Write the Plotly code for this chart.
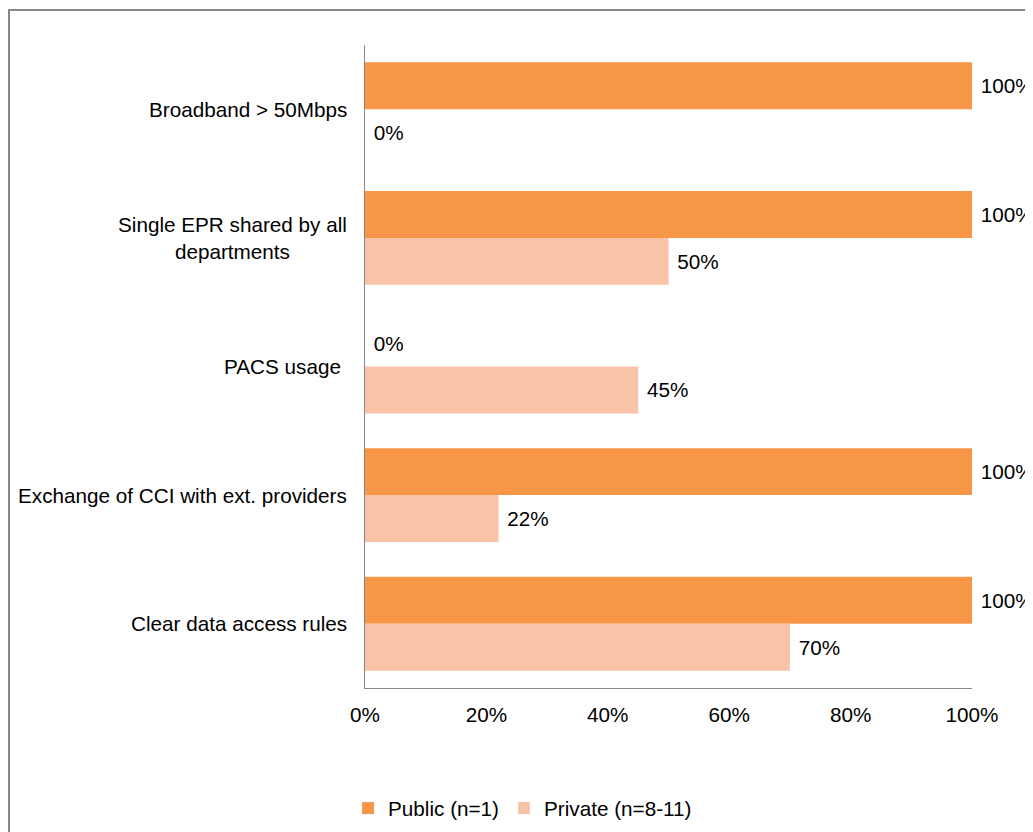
import plotly.graph_objects as go

categories = ["Broadband > 50Mbps", "Single EPR shared by all<br>departments", "PACS usage ",
              "Exchange of CCI with ext. providers", "Clear data access rules"]
public_vals = [1.00, 1.00, 0.00, 1.00, 1.00]
private_vals = [0.00, 0.50, 0.45, 0.22, 0.70]
x_ticks = [0, 0.2, 0.4, 0.6, 0.8, 1.0]
x_ticklabels = ["0%", "20%", "40%", "60%", "80%", "100%"]

FONT = "Liberation Sans, Arial, sans-serif"
FS = 20.7
AXIS_COLOR = "#878787"
NB = "\u00a0"

fig = go.Figure()
fig.add_trace(go.Bar(
    y=categories, x=public_vals, orientation="h", name="Public (n=1)",
    marker=dict(color="#F79646", line=dict(width=0)),
    text=[NB + f"{v:.0%}" for v in public_vals], textposition="outside",
    textfont=dict(size=FS, color="#000000", family=FONT), cliponaxis=False,
))
fig.add_trace(go.Bar(
    y=categories, x=private_vals, orientation="h", name="Private (n=8-11)",
    marker=dict(color="#F9C3A8", line=dict(width=0)),
    text=[NB + f"{v:.0%}" for v in private_vals], textposition="outside",
    textfont=dict(size=FS, color="#000000", family=FONT), cliponaxis=False,
))

for c in categories:
    fig.add_annotation(
        x=0, xref="paper", y=c, yref="y", text=c, showarrow=False,
        xanchor="right", yanchor="middle", align="center", xshift=-16,
        font=dict(size=FS, color="#000000", family=FONT),
    )

# outer chart border (right/bottom edges fall outside the visible canvas)
fig.add_shape(type="rect", xref="paper", yref="paper",
              x0=-0.5865, x1=1.11, y0=-0.235, y1=1.0544,
              line=dict(color=AXIS_COLOR, width=2), fillcolor="rgba(0,0,0,0)", layer="above")

fig.update_layout(
    width=1025, height=824,
    margin=dict(l=357, r=61, t=37, b=144),
    paper_bgcolor="white", plot_bgcolor="white",
    barmode="group", bargap=0.27, bargroupgap=0,
    font=dict(family=FONT, size=FS, color="#000000"),
    showlegend=True,
    legend=dict(orientation="h", xref="container", yref="container",
                x=0.502, y=0.029, xanchor="center", yanchor="middle",
                font=dict(size=FS, family=FONT), traceorder="normal",
                itemwidth=30),
    xaxis=dict(range=[0, 1], tickvals=x_ticks, ticktext=x_ticklabels,
               showgrid=False, zeroline=False, showline=True,
               linecolor=AXIS_COLOR, linewidth=1, ticks="",
               tickfont=dict(size=FS, family=FONT), ticklabelstandoff=8),
    yaxis=dict(autorange="reversed", showticklabels=False, showgrid=False,
               zeroline=False, showline=True, linecolor=AXIS_COLOR, linewidth=1,
               ticks=""),
)

fig.write_html("out.html")
